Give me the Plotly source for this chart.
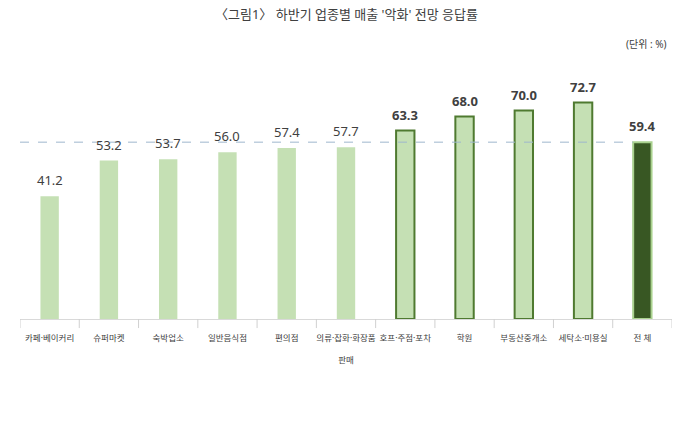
import plotly.graph_objects as go

categories = ["카페·베이커리", "슈퍼마켓", "숙박업소", "일반음식점", "편의점",
              "의류·잡화·화장품<br><br>판매", "호프·주점·포차", "학원", "부동산중개소",
              "세탁소·미용실", "전 체"]
values = [41.2, 53.2, 53.7, 56.0, 57.4, 57.7, 63.3, 68.0, 70.0, 72.7, 59.4]
bold_flags = [False]*6 + [True]*5
total_value = 59.4

light = "#c5e0b4"
dark = "#385723"
edge = "#4f7a30"

fills = [light]*10 + [dark]
lines = ["rgba(0,0,0,0)"]*6 + [edge]*4 + ["#a9d18e"]
lws = [0]*6 + [2]*4 + [2]
texts = [f"<b>{v:.1f}</b>" if b else f"{v:.1f}" for v, b in zip(values, bold_flags)]

FONT = "Noto Sans, Noto Sans CJK KR"

fig = go.Figure()
fig.add_trace(go.Bar(
    x=list(range(len(categories))), y=values, width=0.31,
    marker=dict(color=fills, line=dict(color=lines, width=lws)),
))
for i, (v, t) in enumerate(zip(values, texts)):
    fig.add_annotation(x=i, y=v, text=t, showarrow=False, yanchor="bottom", yshift=5,
                       font=dict(family=FONT, size=13, color="#404040"))
fig.add_shape(type="line", xref="x", yref="y", x0=-0.5, x1=9.84,
              y0=total_value, y1=total_value,
              line=dict(color="#9fb6cd", width=1, dash="dash"), layer="above")

fig.update_layout(
    width=700, height=422, margin=dict(l=20, r=28, t=60, b=103),
    plot_bgcolor="white", paper_bgcolor="white", showlegend=False,
    font=dict(family=FONT, color="#404040"),
)
fig.add_annotation(text="〈그림1〉 하반기 업종별 매출 '악화' 전망 응답률", xref="paper", yref="paper",
                   x=0.5, y=1, yshift=46, xanchor="center", yanchor="middle", showarrow=False,
                   font=dict(size=13, color="#404040", family=FONT))
fig.add_annotation(text="(단위 : %)", xref="paper", yref="paper", x=1, y=1, xshift=-3, yshift=16,
                   xanchor="right", yanchor="middle", showarrow=False,
                   font=dict(size=10, color="#404040", family=FONT))
fig.update_xaxes(tickmode="array", tickvals=list(range(len(categories))), ticktext=categories,
                 range=[-0.5, len(categories) - 0.5], showline=True, linecolor="#d9d9d9",
                 ticks="", tickangle=0, ticklabelstandoff=11,
                 tickfont=dict(size=8.5, color="#404040", family=FONT),
                 showgrid=False)
for i in range(len(categories) + 1):
    fig.add_shape(type="line", xref="x", yref="paper", x0=i - 0.5, x1=i - 0.5, y0=0, y1=-0.035,
                  line=dict(color="#d0d0d0", width=1))
fig.update_yaxes(range=[0, 87], visible=False, showgrid=False)

fig.write_html("out.html")
